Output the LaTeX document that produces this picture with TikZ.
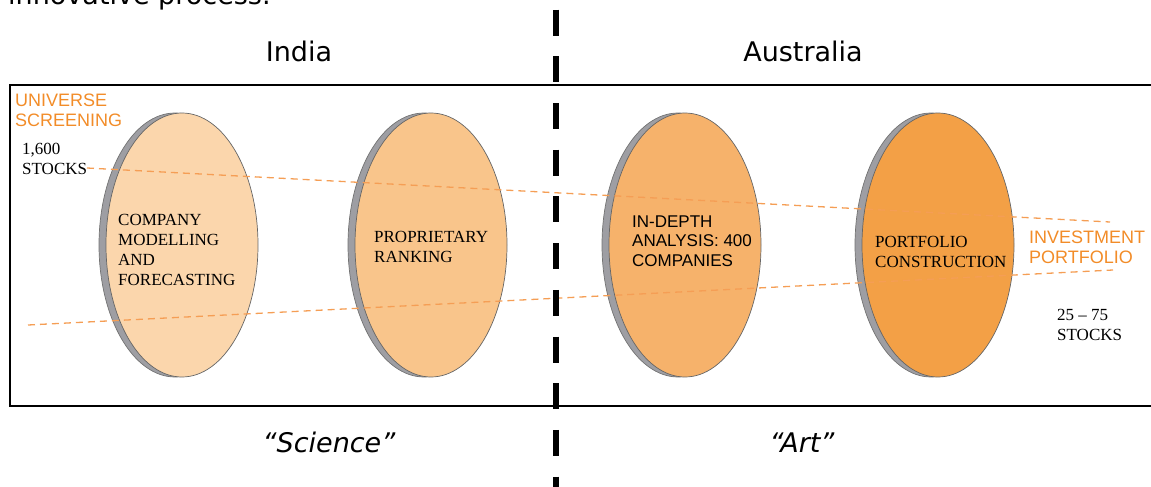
\documentclass[tikz,border=0pt]{standalone}
\usepackage{fontspec}
\setmainfont{Liberation Serif}
\setsansfont{Liberation Sans}
\newfontfamily\headfont{DejaVu Sans}
\usetikzlibrary{shapes.geometric,shadows}
\definecolor{orangetxt}{RGB}{242,140,40}
\definecolor{dashor}{RGB}{245,158,85}
\definecolor{discA}{RGB}{251,214,172}
\definecolor{discB}{RGB}{249,197,139}
\definecolor{discC}{RGB}{246,178,107}
\definecolor{discD}{RGB}{243,160,70}
\definecolor{rimgray}{RGB}{158,158,163}
\newcommand{\mylines}[1]{\begin{tabular}[t]{@{}l@{}}#1\end{tabular}}
\begin{document}
\begin{tikzpicture}[x=1pt,y=1pt,
  disc/.style={ellipse, minimum width=152pt, minimum height=264pt, inner sep=0pt,
    draw=black!60, line width=0.7pt,
    copy shadow={shadow xshift=-7pt, shadow yshift=0pt, fill=rimgray, draw=black!55, line width=0.7pt}},
  serif/.style={anchor=base west, inner sep=0pt, font=\fontsize{17}{20}\selectfont},
  sans/.style={anchor=base west, inner sep=0pt, font=\sffamily\fontsize{17}{19.5}\selectfont},
  orangelabel/.style={anchor=base west, inner sep=0pt, text=orangetxt, font=\sffamily\fontsize{18}{20.5}\selectfont},
  head/.style={anchor=base, inner sep=0pt, font=\headfont\fontsize{27}{32}\selectfont},
  flow/.style={draw=dashor, line width=1.3pt, dash pattern=on 7pt off 5pt},
  divider/.style={draw=black, line width=6.5pt, dash pattern=on 26pt off 20.7pt, dash phase=37.1pt},
  frame/.style={draw=black, line width=1.8pt}
]
\useasboundingbox (0,0) rectangle (1151,-487);
\clip (0,0) rectangle (1151,-487);

% cut-off heading line
\node[anchor=base west, inner sep=0pt, font=\headfont\fontsize{27}{32}\selectfont] (intro) at (8,-4.5) {innovative process.};

% region headings
\node[head] (india) at (299,-62) {India};
\node[head] (aus) at (803,-62) {Australia};
\node[head, font=\headfont\itshape\fontsize{27}{32}\selectfont] (sci) at (329,-452) {“Science”};
\node[head, font=\headfont\itshape\fontsize{27}{32}\selectfont] (art) at (802,-452) {“Art”};

% frame
\draw[frame] (10,-85) rectangle (1165,-406);

% discs
\node[disc, fill=discA] (e1) at (182,-245) {};
\node[disc, fill=discB] (e2) at (431,-245) {};
\node[disc, fill=discC] (e3) at (685,-245) {};
\node[disc, fill=discD] (e4) at (938,-245) {};

% flow lines
\coordinate (t1) at (87,-168);
\coordinate (t2) at (1110,-222);
\coordinate (b1) at (28,-325);
\coordinate (b2) at (1113,-270);
\draw[flow] (t1) -- (t2);
\draw[flow] (b1) -- (b2);

% disc labels
\node[serif] (l1) at (118,-225) {\mylines{COMPANY\\MODELLING\\AND\\FORECASTING}};
\node[serif] (l2) at (374,-242) {\mylines{PROPRIETARY\\RANKING}};
\node[sans] (l3) at (632,-227) {\mylines{IN-DEPTH\\ANALYSIS: 400\\COMPANIES}};
\node[serif] (l4) at (875,-247) {\mylines{PORTFOLIO\\CONSTRUCTION}};

% side labels
\node[orangelabel] (univ) at (15,-106) {\mylines{UNIVERSE\\SCREENING}};
\node[serif] (n1600) at (22,-154) {\mylines{1,600\\STOCKS}};
\node[orangelabel] (inv) at (1029,-243) {\mylines{INVESTMENT\\PORTFOLIO}};
\node[serif] (n2575) at (1057,-320) {\mylines{25 – 75\\STOCKS}};

% divider
\coordinate (v1) at (556,0);
\coordinate (v2) at (556,-487);
\draw[divider] (v1) -- (v2);
\end{tikzpicture}
\end{document}
